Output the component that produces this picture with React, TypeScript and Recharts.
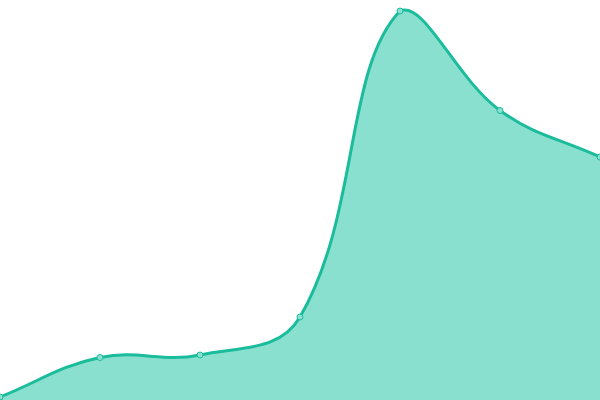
import React from "react";
import { AreaChart, Area, XAxis, YAxis } from "recharts";

// categories and values
const labels = ["A", "B", "C", "D", "E", "F", "G"];
const values = [3, 42.5, 45, 83, 389, 289.5, 243];

const data = labels.map((name, i) => ({ name, value: values[i] }));

const WIDTH = 600;
const HEIGHT = 400;
const TENSION = 0.4;

const clamp = (v: number, min: number, max: number) => Math.max(Math.min(v, max), min);

// spline with tension, control points kept inside the plot area
const splineCurve = (context: any) => {
  let pts: number[][] = [];
  let line: number = NaN;
  return {
    areaStart() {
      line = 0;
    },
    areaEnd() {
      line = NaN;
    },
    lineStart() {
      pts = [];
    },
    point(x: number, y: number) {
      pts.push([+x, +y]);
    },
    lineEnd() {
      const n = pts.length;
      const cps: number[][] = [];
      for (let i = 0; i < n; i++) {
        const cur = pts[i];
        const prev = pts[i - 1] || cur;
        const next = pts[i + 1] || cur;
        const d01 = Math.hypot(cur[0] - prev[0], cur[1] - prev[1]);
        const d12 = Math.hypot(next[0] - cur[0], next[1] - cur[1]);
        let s01 = d01 / (d01 + d12);
        let s12 = d12 / (d01 + d12);
        if (isNaN(s01)) s01 = 0;
        if (isNaN(s12)) s12 = 0;
        const fa = TENSION * s01;
        const fb = TENSION * s12;
        cps.push([
          clamp(cur[0] - fa * (next[0] - prev[0]), 0, WIDTH),
          clamp(cur[1] - fa * (next[1] - prev[1]), 0, HEIGHT),
          clamp(cur[0] + fb * (next[0] - prev[0]), 0, WIDTH),
          clamp(cur[1] + fb * (next[1] - prev[1]), 0, HEIGHT),
        ]);
      }
      if (n > 0) {
        if (line) context.lineTo(pts[0][0], pts[0][1]);
        else context.moveTo(pts[0][0], pts[0][1]);
        for (let i = 1; i < n; i++) {
          context.bezierCurveTo(
            cps[i - 1][2],
            cps[i - 1][3],
            cps[i][0],
            cps[i][1],
            pts[i][0],
            pts[i][1]
          );
        }
      }
      if (line || (line !== 0 && n === 1)) context.closePath();
      line = 1 - line;
    },
  };
};

const App: React.FC = () => {
  return (
    <div style={{ position: "fixed", top: 0, left: 0 }}>
      <AreaChart
        width={WIDTH}
        height={HEIGHT}
        data={data}
        margin={{ top: 0, right: 0, bottom: 0, left: 0 }}
      >
        <XAxis dataKey="name" hide />
        <YAxis hide domain={[0, 400]} />
        <Area
          type={splineCurve as any}
          dataKey="value"
          stroke="#1abc9c"
          strokeWidth={3}
          fill="#8ae0cf"
          fillOpacity={1}
          dot={{ r: 3, fill: "#8ae0cf", stroke: "#1abc9c", strokeWidth: 1 }}
          activeDot={false}
          isAnimationActive={false}
        />
      </AreaChart>
    </div>
  );
};

export default App;
